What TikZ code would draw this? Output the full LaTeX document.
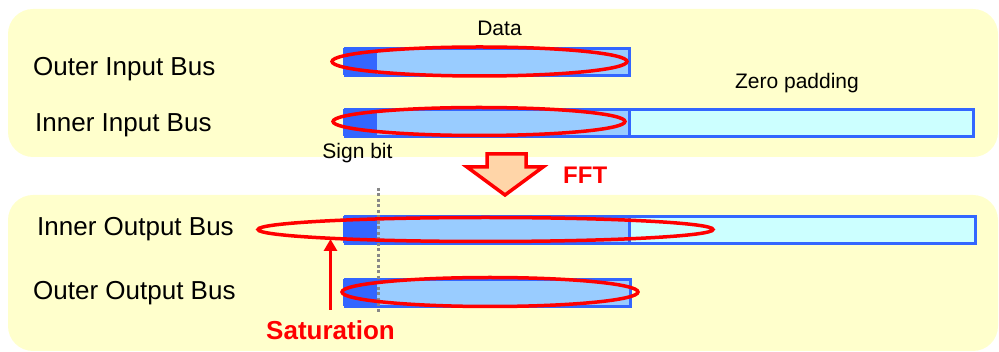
\documentclass[tikz,border=0pt]{standalone}
\usepackage{fontspec}
\setmainfont{Liberation Sans}
\usetikzlibrary{arrows.meta,shapes.geometric}
\definecolor{panel}{HTML}{FFFFCC}
\definecolor{busblue}{HTML}{3366FF}
\definecolor{datablue}{HTML}{99CCFF}
\definecolor{padcyan}{HTML}{CCFFFF}
\definecolor{fftfill}{HTML}{FFD5A8}
\definecolor{myred}{HTML}{FF0000}
\definecolor{dotgray}{HTML}{888888}
\begin{document}
\begin{tikzpicture}[x=1pt,y=-1pt,
  panelbox/.style={fill=panel, rounded corners=25pt},
  busrect/.style={draw=busblue, line width=3pt, anchor=north west, inner sep=0pt, minimum height=27pt},
  datarect/.style={busrect, fill=datablue},
  padrect/.style={busrect, fill=padcyan},
  signrect/.style={fill=busblue, anchor=north west, inner sep=0pt, minimum width=34pt, minimum height=27pt},
  redell/.style={ellipse, draw=myred, line width=3.5pt, inner sep=0pt},
  buslabel/.style={anchor=base west, inner sep=0pt, font=\fontsize{26}{30}\selectfont},
  smalllabel/.style={anchor=base, inner sep=0pt, font=\fontsize{21}{25}\selectfont},
  redlabel/.style={inner sep=0pt, text=myred, font=\bfseries\fontsize{26}{30}\selectfont}
]
\useasboundingbox (0,0) rectangle (999,352);
% panels
\fill[panelbox] (8,9) rectangle (998,157);
\fill[panelbox] (8,195) rectangle (998,351);

% labels
\node[buslabel] (lOI) at (33,76) {Outer Input Bus};
\node[buslabel] (lII) at (35,132) {Inner Input Bus};
\node[buslabel] (lIO) at (37,236) {Inner Output Bus};
\node[buslabel] (lOO) at (33,300) {Outer Output Bus};
\node[smalllabel] (data) at (499.5,36) {Data};
\node[smalllabel] (zero) at (797,89) {Zero padding};
\node[smalllabel] (sign) at (357.5,159) {Sign bit};

% outer input bus
\node[datarect, minimum width=284pt] (oiD) at (343.5,47.5) {};
\node[signrect] (oiS) at (343,47.5) {};
% inner input bus
\node[datarect, minimum width=284pt] (iiD) at (343.5,108.5) {};
\node[padrect, minimum width=344pt] (iiP) at (628,108.5) {};
\node[signrect] (iiS) at (343,108.5) {};
% inner output bus
\node[datarect, minimum width=284pt] (ioD) at (343.5,215.5) {};
\node[padrect, minimum width=346pt] (ioP) at (628,215.5) {};
\node[signrect] (ioS) at (343,215.5) {};
% outer output bus
\node[datarect, minimum width=285pt] (ooD) at (343.5,278.5) {};
\node[signrect] (ooS) at (343,278.5) {};

% dotted sign-bit boundary
\coordinate (dotTop) at (378.5,188);
\coordinate (dotBot) at (378.5,313);
\draw[dotgray, line width=3pt, dash pattern=on 3pt off 2.5pt] (dotTop) -- (dotBot);

% ellipses
\node[redell, minimum width=295pt, minimum height=29pt] (eOI) at (479.5,61.5) {};
\node[redell, minimum width=292pt, minimum height=28pt] (eII) at (479,121.5) {};
\node[redell, minimum width=455pt, minimum height=24pt] (eIO) at (485.5,229.5) {};
\node[redell, minimum width=296pt, minimum height=29pt] (eOO) at (490,292) {};

% FFT arrow
\draw[myred, fill=fftfill, line width=3.5pt, line join=miter]
  (487,154) -- (526,154) -- (526,167) -- (543,167) -- (505,195) -- (467,167) -- (487,167) -- cycle;
\node[redlabel, anchor=base west, font=\bfseries\fontsize{24}{28}\selectfont] (fft) at (563,184) {FFT};

% saturation
\node[redlabel, anchor=base] (sat) at (330.5,340) {Saturation};
\coordinate (satBase) at (330.5,310);
\coordinate (satTip) at (330.5,239);
\draw[myred, line width=3.5pt, -{Triangle[length=12pt,width=13pt]}] (satBase) -- (satTip);
\end{tikzpicture}
\end{document}
